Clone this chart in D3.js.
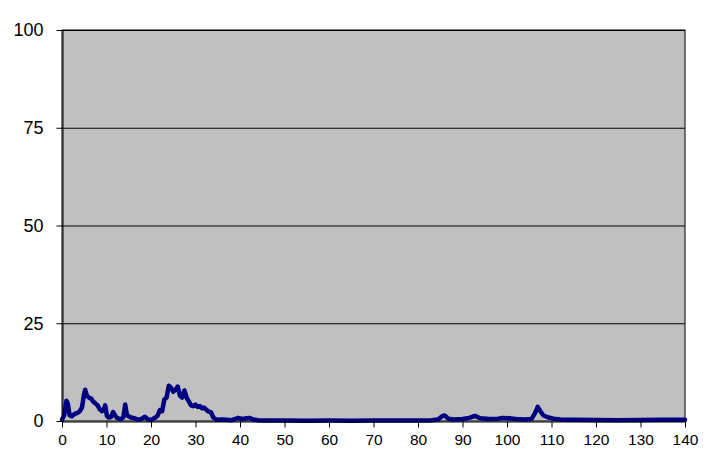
<!DOCTYPE html>
<html><head><meta charset="utf-8">
<script src="https://cdn.jsdelivr.net/npm/d3@7"></script>
<style>html,body{margin:0;padding:0;background:#fff;}svg{display:block;}</style>
</head><body>
<svg id="chart" width="707" height="471"></svg>
<script>
const xValues = [0,0.5,1,1.3,1.7,2.2,2.8,3.4,4,4.5,4.9,5.2,5.6,6,6.5,7,7.5,8,8.5,9,9.4,9.7,10.1,10.5,11,11.5,11.9,12.3,12.8,13.3,13.8,14.2,14.6,15,15.5,16,16.5,17,17.5,18,18.6,19.2,19.8,20.4,21,21.5,22,22.5,23,23.5,24,24.5,25,25.5,26,26.5,27,27.5,28,28.5,29,29.5,30,30.5,31,31.5,32,32.5,33,33.5,34,34.5,35,36,37,38,39,39.5,40.5,41.5,42,43,44,46,48,50,55,60,65,70,75,80,83,84.5,85.5,86,86.8,88,90,91.5,92.8,94,96,98,99,100.5,102,104,105.5,106.3,106.9,107.5,108.2,109.3,110.5,112,115,120,125,130,135,140];
const yValues = [0.3,1.5,5.2,4.5,1.5,1.2,1.8,2.0,2.5,3.5,6.5,8.0,6.5,6.0,5.8,5.0,4.5,4.0,3.0,2.5,2.8,4.0,1.3,0.9,1.0,2.3,1.5,0.8,0.6,0.5,1.0,4.2,1.5,1.2,0.9,0.8,0.6,0.4,0.4,0.6,1.1,0.5,0.3,0.5,0.9,1.4,2.8,2.5,5.5,6.0,9.0,8.5,7.5,8.0,8.8,6.5,6.0,7.8,6.0,5.0,4.0,3.8,4.2,3.6,3.8,3.2,3.4,2.8,2.4,2.2,0.9,0.5,0.3,0.4,0.3,0.2,0.5,0.8,0.5,0.7,0.8,0.4,0.2,0.1,0.1,0.1,0.05,0.1,0.05,0.1,0.1,0.1,0.2,0.4,1.3,1.4,0.6,0.4,0.5,0.8,1.3,0.7,0.5,0.6,0.8,0.7,0.5,0.4,0.5,2.0,3.6,2.5,1.4,0.9,0.6,0.4,0.3,0.25,0.2,0.25,0.3,0.3];
const xTicks = [0,10,20,30,40,50,60,70,80,90,100,110,120,130,140];
const yTicks = [0,25,50,75,100];

const svg = d3.select("#chart");
const L = 62, R = 685, T = 30, B = 421;
const x = d3.scaleLinear().domain([0,140]).range([L,R]);
const y = d3.scaleLinear().domain([0,100]).range([B,T]);

svg.append("rect").attr("x",L).attr("y",T).attr("width",R-L).attr("height",B-T)
  .attr("fill","#c0c0c0").attr("stroke","#000").attr("stroke-width",1);

svg.append("g").selectAll("line").data(yTicks.filter(d=>d>0)).join("line")
  .attr("x1",L).attr("x2",R).attr("y1",d=>y(d)+0.5).attr("y2",d=>y(d)+0.5)
  .attr("stroke","#000").attr("stroke-width",1);

const line = d3.line().x((d,i)=>x(xValues[i])).y(d=>y(d)).curve(d3.curveLinear);
svg.append("path").datum(yValues).attr("d",line).attr("fill","none")
  .attr("stroke","#000080").attr("stroke-width",4.5).attr("stroke-linejoin","round").attr("stroke-linecap","round");

const yAxis = svg.append("g").attr("transform",`translate(${L+0.5},0)`)
  .call(d3.axisLeft(y).tickValues(yTicks).tickSize(6).tickPadding(13).tickSizeOuter(0));
yAxis.selectAll("text").attr("font-family","Liberation Sans, Arial, sans-serif").attr("font-size",18).attr("fill","#000");
yAxis.selectAll("line, path").attr("stroke","#000");

const xAxis = svg.append("g").attr("transform",`translate(0,${B+0.5})`)
  .call(d3.axisBottom(x).tickValues(xTicks).tickSize(6).tickPadding(6).tickSizeOuter(0));
xAxis.selectAll("text").attr("font-family","Liberation Sans, Arial, sans-serif").attr("font-size",15.5).attr("fill","#000");
xAxis.selectAll("line, path").attr("stroke","#000");
</script>
</body></html>
